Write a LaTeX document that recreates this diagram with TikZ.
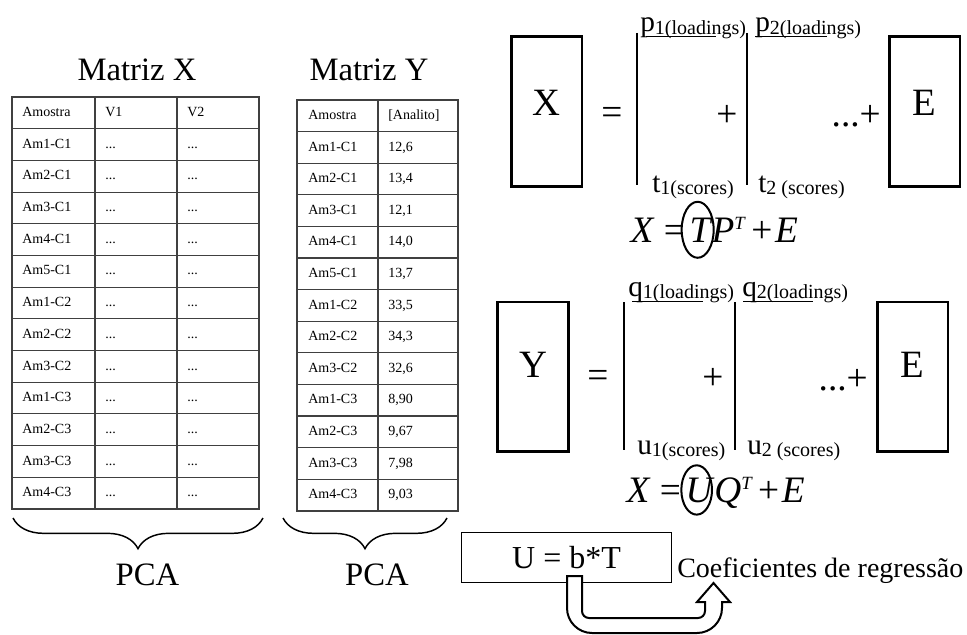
\documentclass[tikz,border=0pt]{standalone}
\usepackage{fontspec}
\setmainfont{Liberation Serif}
\usepackage{tikz}
\usetikzlibrary{positioning,calc,shapes.geometric,decorations.pathreplacing}

\newcommand{\vecname}[2]{%
  {\fontsize{22}{22}\selectfont #1}%
  \raisebox{-2pt}{\fontsize{15}{15}\selectfont #2}%
}
\newcommand{\transp}{%
  \raisebox{9.5pt}{\fontsize{14}{14}\selectfont\textit{T}}%
}

\tikzset{
  table cell/.style={
    anchor=west,
    inner sep=0pt,
    text height=7.5pt,
    text depth=2pt,
    font=\fontsize{10.5}{10.5}\selectfont
  }
}
\tikzset{
  grid line/.style={
    draw=black!75,
    line width=0.8pt
  }
}
\tikzset{
  title text/.style={
    inner sep=0pt,
    font=\fontsize{24.5}{25}\selectfont
  }
}
\tikzset{
  matrix box/.style={
    rectangle,
    draw=black,
    line width=2pt,
    minimum width=53pt,
    minimum height=112pt,
    inner sep=0pt
  }
}
\tikzset{
  box letter/.style={
    inner sep=0pt,
    font=\fontsize{29}{29}\selectfont
  }
}
\tikzset{
  op sign/.style={
    inner sep=0pt,
    font=\fontsize{28}{28}\selectfont
  }
}
\tikzset{
  vec label/.style={
    anchor=base west,
    inner sep=0pt
  }
}
\tikzset{
  equation/.style={
    inner sep=0pt,
    font=\fontsize{28}{28}\selectfont
  }
}
\tikzset{
  ring/.style={
    ellipse,
    draw=black,
    line width=1.5pt,
    inner sep=0pt
  }
}
\tikzset{
  brace line/.style={
    decorate,
    decoration={brace,mirror,amplitude=23pt},
    line width=1.1pt
  }
}

\begin{document}
\begin{tikzpicture}[x=0.75pt,y=-0.75pt]

    \useasboundingbox (0,0) rectangle (967,635);

    % ------------------------------------------------------------
    % Matriz X
    % ------------------------------------------------------------

    \node[title text] (titleX) at (137,69.5) {Matriz X};

    \draw[grid line] (12,97) rectangle (259,509);
    \foreach \r in {1,...,12}
      \draw[grid line] (12,{97+31.69*\r}) -- (259,{97+31.69*\r});
    \foreach \c in {95,177}
      \draw[grid line] (\c,97) -- (\c,509);

    \node[table cell] (xh0) at (22,{97+31.69*0.5}) {Amostra};
    \node[table cell] (xa0) at (105,{97+31.69*0.5}) {V1};
    \node[table cell] (xb0) at (187,{97+31.69*0.5}) {V2};

    \foreach \smp [count=\r] in {Am1-C1,Am2-C1,Am3-C1,Am4-C1,Am5-C1,Am1-C2,Am2-C2,Am3-C2,Am1-C3,Am2-C3,Am3-C3,Am4-C3}
    {
      \node[table cell] (xs\r) at (22,{97+31.69*(\r+0.5)}) {\smp};
      \node[table cell] (xa\r) at (105,{97+31.69*(\r+0.5)}) {...};
      \node[table cell] (xb\r) at (187,{97+31.69*(\r+0.5)}) {...};
    }

    % ------------------------------------------------------------
    % Matriz Y
    % ------------------------------------------------------------

    \node[title text] (titleY) at (369,69.5) {Matriz Y};

    \draw[grid line] (297,100) rectangle (458,511);
    \foreach \r in {1,...,12}
      \draw[grid line] (297,{100+31.6*\r}) -- (458,{100+31.6*\r});
    \draw[grid line] (378,100) -- (378,511);

    \node[table cell] (yh0) at (308,{100+31.6*0.5}) {Amostra};
    \node[table cell] (yv0) at (388,{100+31.6*0.5}) {[Analito]};

    \foreach \smp/\val [count=\r] in {Am1-C1/{12,6},Am2-C1/{13,4},Am3-C1/{12,1},Am4-C1/{14,0},Am5-C1/{13,7},Am1-C2/{33,5},Am2-C2/{34,3},Am3-C2/{32,6},Am1-C3/{8,90},Am2-C3/{9,67},Am3-C3/{7,98},Am4-C3/{9,03}}
    {
      \node[table cell] (ys\r) at (308,{100+31.6*(\r+0.5)}) {\smp};
      \node[table cell] (yv\r) at (388,{100+31.6*(\r+0.5)}) {\val};
    }

    % ------------------------------------------------------------
    % Braces
    % ------------------------------------------------------------

    \draw[brace line] (13,518) -- (263,518);
    \draw[brace line] (283,518) -- (447,518);

    \node[title text] (pcaX) at (147.5,575) {PCA};
    \node[title text] (pcaY) at (377,575) {PCA};

    % ------------------------------------------------------------
    % X decomposition
    % ------------------------------------------------------------

    \node[matrix box] (boxX) at (546.5,111.5) {};
    \node[box letter] (letX) at (546.5,103) {X};

    \node[op sign] (eqX) at (612,116) {=};

    \draw[line width=0.8pt] (637,33) -- (637,185);
    \draw[line width=0.8pt] (747,33) -- (747,185);

    \node[vec label] (p1) at (640,32) {\vecname{p}{1(loadings)}};
    \node[vec label] (p2) at (755,32) {\vecname{p}{2(loadings)}};
    \draw[line width=0.8pt] (646,36.7) -- (716,36.7);
    \draw[line width=0.8pt] (755,36.7) -- (827,36.7);

    \node[op sign] (plusX) at (727,116) {+};

    \node[vec label] (t1) at (652,192) {\vecname{t}{1(scores)}};
    \node[vec label] (t2) at (758,192) {\vecname{t}{2 (scores)}};

    \node[op sign, anchor=east] (dotsX) at (881,116) {...+};

    \node[matrix box] (boxEX) at (924.5,111.5) {};
    \node[box letter] (letEX) at (924.5,103) {E};

    % X = TP^T + E, with the scores circled
    \node[equation, anchor=base] (termT) at (701,242) {\textit{T}};
    \node[equation, anchor=base east] (lhsX) at ([xshift=-3pt]termT.base west) {\textit{X} =};
    \node[equation, anchor=base west] (rhsX) at ([xshift=-1pt]termT.base east)
    {
      \textit{P}\transp\kern4pt+\kern2pt\textit{E}
    };
    \node[ring, minimum width=24pt, minimum height=42pt] (ringT) at ([xshift=-2.5pt]termT.center) {};

    % ------------------------------------------------------------
    % Y decomposition
    % ------------------------------------------------------------

    \node[matrix box] (boxY) at (533,376.5) {};
    \node[box letter] (letY) at (533,365) {Y};

    \node[op sign] (eqY) at (598,379) {=};

    \draw[line width=0.8pt] (624,302) -- (624,450);
    \draw[line width=0.8pt] (735,302) -- (735,450);

    \node[vec label] (q1) at (628,296) {\vecname{q}{1(loadings)}};
    \node[vec label] (q2) at (742,296) {\vecname{q}{2(loadings)}};
    \draw[line width=0.8pt] (632,301.7) -- (703,301.7);
    \draw[line width=0.8pt] (743,301.7) -- (813,301.7);

    \node[op sign] (plusY) at (713,379) {+};

    \node[vec label] (u1) at (637,454) {\vecname{u}{1(scores)}};
    \node[vec label] (u2) at (747,454) {\vecname{u}{2 (scores)}};

    \node[op sign, anchor=east] (dotsY) at (868,380) {...+};

    \node[matrix box] (boxEY) at (912.5,376.5) {};
    \node[box letter] (letEY) at (912.5,365) {E};

    % X = UQ^T + E, with the scores circled
    \node[equation, anchor=base] (termU) at (700,502) {\textit{U}};
    \node[equation, anchor=base east] (lhsY) at ([xshift=-3pt]termU.base west) {\textit{X} =};
    \node[equation, anchor=base west] (rhsY) at ([xshift=-0.5pt]termU.base east)
    {
      \textit{Q}\transp\kern4pt+\kern2pt\textit{E}
    };
    \node[ring, minimum width=23pt, minimum height=37pt] (ringU) at ([xshift=-2.5pt]termU.center) {};

    % ------------------------------------------------------------
    % Regression
    % ------------------------------------------------------------

    \node[rectangle, draw=black, line width=0.8pt, minimum width=158pt, minimum height=37pt,
          font=\fontsize{24}{24}\selectfont] (ubox) at (566.5,557.5) {U = b*T};

    \node[anchor=base west, inner sep=0pt, font=\fontsize{21}{21}\selectfont]
      (coef) at (677,577) {Coeficientes de regressão};

    % U-turn block arrow
    \draw[line width=1.5pt, fill=white, line join=miter]
      (567,576) -- (567,608)
      .. controls (567,621.8) and (578.2,633) .. (592,633)
      -- (697,633)
      .. controls (710.8,633) and (722,621.8) .. (722,608)
      -- (722,602) -- (730,602) -- (713.5,583) -- (697,602) -- (705,602)
      -- (705,611)
      .. controls (705,614.9) and (701.9,618) .. (698,618)
      -- (589,618)
      .. controls (585.1,618) and (582,614.9) .. (582,611)
      -- (582,576) -- cycle;

\end{tikzpicture}
\end{document}
